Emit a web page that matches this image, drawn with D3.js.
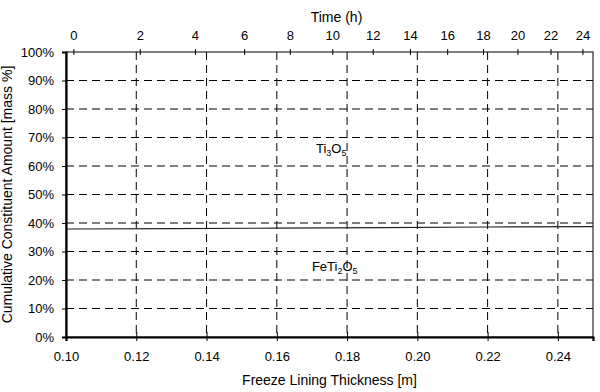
<!DOCTYPE html>
<html>
<head>
<meta charset="utf-8">
<script src="https://cdn.jsdelivr.net/npm/d3@7"></script>
<style>
  body { margin: 0; background: #fff; }
  svg text { font-family: "Liberation Sans", Arial, sans-serif; fill: #000; }
  .grid line { stroke: #000; stroke-width: 1; stroke-dasharray: 8,5; }
</style>
</head>
<body>
<svg id="chart"></svg>
<script>
// Size of the picture
const margin = {top: 52, right: 7, bottom: 55, left: 66};
const width = 600 - margin.left - margin.right;
const height = 392 - margin.top - margin.bottom;

// Boundary line between the two phases (thickness [m] -> cumulative mass fraction)
const thickness = [0.10, 0.13, 0.16, 0.19, 0.22, 0.25];
const boundary = [0.379, 0.380, 0.382, 0.384, 0.386, 0.387];

// Bottom axis ticks
const xTicks = [0.10, 0.12, 0.14, 0.16, 0.18, 0.20, 0.22, 0.24];
// Top axis: time labels and the thickness where each one sits
const timeLabels = [0, 2, 4, 6, 8, 10, 12, 14, 16, 18, 20, 22, 24];
const timeAt = [0.1021, 0.1210, 0.1367, 0.1507, 0.1637, 0.1758, 0.1873, 0.1979, 0.2085, 0.2187, 0.2285, 0.2379, 0.2470];
// Y ticks
const yTicks = [0, 0.1, 0.2, 0.3, 0.4, 0.5, 0.6, 0.7, 0.8, 0.9, 1.0];

// Phase labels
const phases = [
  {name: "Ti", sub1: "3", mid: "O", sub2: "5", x: 0.1755, y: 0.645},
  {name: "FeTi", sub1: "2", mid: "O", sub2: "5", x: 0.1765, y: 0.232}
];

const svg = d3.select("#chart")
  .attr("width", width + margin.left + margin.right)
  .attr("height", height + margin.top + margin.bottom)
  .append("g")
  .attr("transform", `translate(${margin.left}, ${margin.top})`);

const x = d3.scaleLinear().domain([0.10, 0.25]).range([0, width]);
const y = d3.scaleLinear().domain([0, 1]).range([height, 0]);

// Grid lines
svg.append("g").attr("class", "grid")
  .selectAll("line")
  .data(yTicks.slice(1, -1))
  .enter().append("line")
  .attr("x1", 0).attr("x2", width)
  .attr("y1", (d) => y(d)).attr("y2", (d) => y(d));

svg.append("g").attr("class", "grid")
  .selectAll("line")
  .data(xTicks.slice(1))
  .enter().append("line")
  .attr("x1", (d) => x(d)).attr("x2", (d) => x(d))
  .attr("y1", 0).attr("y2", height);

// Frame (top and right thin)
svg.append("rect")
  .attr("width", width).attr("height", height)
  .attr("fill", "none").attr("stroke", "#000").attr("stroke-width", 1);

// Boundary line
const line = d3.line()
  .x((d, i) => x(thickness[i]))
  .y((d) => y(d));
svg.append("path")
  .datum(boundary)
  .attr("d", line)
  .attr("fill", "none")
  .attr("stroke", "#222")
  .attr("stroke-width", 1.2);

// Bottom axis
const xAxis = svg.append("g")
  .attr("transform", `translate(0, ${height})`)
  .call(d3.axisBottom(x).tickValues(xTicks).tickFormat(d3.format(".2f")).tickSize(4));
xAxis.select(".domain").attr("stroke-width", 2.2);
xAxis.selectAll(".tick line").attr("y1", -5).attr("y2", 4);
xAxis.selectAll("text").attr("y", 15).style("font-size", "13px");

// Left axis
const yAxis = svg.append("g")
  .call(d3.axisLeft(y).tickValues(yTicks).tickFormat(d3.format(".0%")).tickSize(4));
yAxis.select(".domain").attr("stroke-width", 2.2);
yAxis.selectAll("text").attr("x", -12).style("font-size", "13px");

// Top axis (time)
const tAxis = svg.append("g")
  .call(d3.axisTop(x).tickValues(timeAt).tickFormat((d, i) => timeLabels[i]).tickSize(3));
tAxis.select(".domain").remove();
tAxis.selectAll(".tick line").attr("y1", -3).attr("y2", 3);
tAxis.selectAll("text").attr("y", -12).style("font-size", "13px");

// Axis titles
svg.append("text")
  .attr("x", width / 2).attr("y", height + 48)
  .attr("text-anchor", "middle")
  .style("font-size", "14px")
  .text("Freeze Lining Thickness [m]");

svg.append("text")
  .attr("x", width / 2 + 7).attr("y", -30)
  .attr("text-anchor", "middle")
  .style("font-size", "14px")
  .text("Time (h)");

svg.append("text")
  .attr("transform", `translate(${-54}, ${height / 2}) rotate(-90)`)
  .attr("text-anchor", "middle")
  .style("font-size", "14px")
  .text("Cumulative Constituent Amount [mass %]");

// Phase labels with subscripts
phases.forEach((p) => {
  const t = svg.append("text")
    .attr("x", x(p.x)).attr("y", y(p.y))
    .attr("text-anchor", "middle")
    .style("font-size", "13px");
  t.append("tspan").text(p.name);
  t.append("tspan").attr("dy", 3).style("font-size", "9px").text(p.sub1);
  t.append("tspan").attr("dy", -3).text(p.mid);
  t.append("tspan").attr("dy", 3).style("font-size", "9px").text(p.sub2);
});
</script>
</body>
</html>
